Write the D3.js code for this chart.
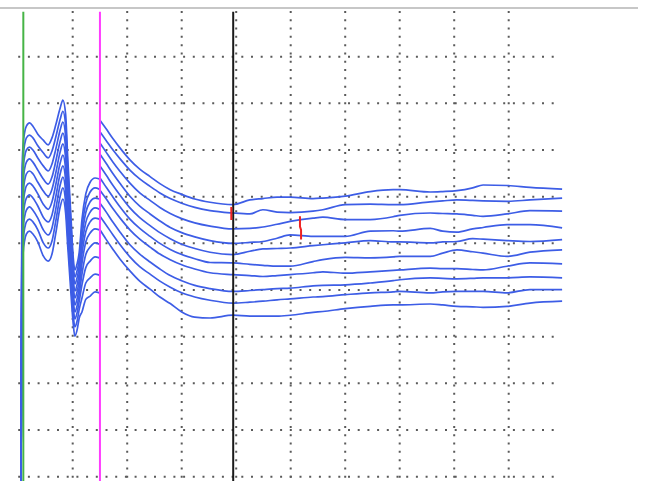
<!DOCTYPE html>
<html>
<head>
<meta charset="utf-8">
<script src="https://cdn.jsdelivr.net/npm/d3@7"></script>
<style>
  html, body { margin: 0; padding: 0; background: #fff; }
  svg { display: block; }
</style>
</head>
<body>
<svg id="chart" width="645" height="481"></svg>
<script>
// ---- data (time in ms, amplitude in µV) ----
const gridTimes = [10, 20, 30, 40, 50, 60, 70, 80, 90];
const gridLevels = [4, 3, 2, 1, 0, -1, -2, -3, -4, -5];
const markerTimes = [0.94, 15.0, 39.45];          // green, magenta, black cursors

const earlyTimes = [0.5, 0.6, 0.7, 0.9, 1.2, 1.5, 2.1, 2.7, 3.6, 4.6, 5.5, 6.2, 6.9, 7.7, 8.2, 8.7, 9.1, 9.7, 10.1, 10.4, 10.8, 11.2, 11.7, 12.4, 13.2, 14.1, 14.9];
const earlyValues = [
  [-5.29, -2.93, 1.51, 2.11, 2.39, 2.51, 2.58, 2.51, 2.34, 2.21, 2.11, 2.26, 2.54, 2.90, 3.07, 2.77, 1.80, 0.52, -0.31, -0.57, -0.44, -0.19, 0.51, 1.06, 1.31, 1.40, 1.38],
  [-5.29, -2.93, 1.25, 1.85, 2.13, 2.26, 2.32, 2.26, 2.09, 1.94, 1.83, 1.98, 2.28, 2.66, 2.83, 2.54, 1.59, 0.34, -0.47, -0.72, -0.59, -0.34, 0.33, 0.86, 1.10, 1.19, 1.16],
  [-5.29, -2.93, 0.99, 1.59, 1.87, 2.00, 2.06, 2.00, 1.83, 1.66, 1.55, 1.70, 2.02, 2.43, 2.60, 2.30, 1.38, 0.17, -0.61, -0.87, -0.74, -0.49, 0.14, 0.66, 0.89, 0.97, 0.95],
  [-5.29, -2.93, 0.73, 1.33, 1.61, 1.74, 1.81, 1.74, 1.57, 1.38, 1.27, 1.42, 1.76, 2.19, 2.36, 2.06, 1.18, -0.01, -0.77, -1.02, -0.89, -0.64, -0.04, 0.45, 0.67, 0.76, 0.73],
  [-5.29, -2.93, 0.48, 1.08, 1.36, 1.49, 1.55, 1.49, 1.31, 1.12, 1.01, 1.16, 1.51, 1.96, 2.13, 1.83, 0.97, -0.18, -0.91, -1.17, -1.04, -0.79, -0.23, 0.25, 0.46, 0.54, 0.52],
  [-5.29, -2.93, 0.22, 0.82, 1.10, 1.23, 1.29, 1.23, 1.06, 0.84, 0.73, 0.89, 1.26, 1.72, 1.89, 1.59, 0.77, -0.36, -1.06, -1.32, -1.19, -0.94, -0.43, 0.03, 0.22, 0.31, 0.29],
  [-5.29, -2.93, -0.04, 0.56, 0.84, 0.97, 1.04, 0.97, 0.80, 0.56, 0.46, 0.61, 1.00, 1.49, 1.66, 1.36, 0.56, -0.53, -1.22, -1.47, -1.34, -1.09, -0.66, -0.24, -0.08, 0.01, -0.02],
  [-5.29, -2.93, -0.29, 0.31, 0.58, 0.71, 0.78, 0.71, 0.54, 0.29, 0.18, 0.33, 0.74, 1.25, 1.42, 1.12, 0.36, -0.71, -1.36, -1.62, -1.49, -1.24, -0.89, -0.52, -0.38, -0.29, -0.31],
  [-5.29, -2.93, -0.55, 0.05, 0.33, 0.46, 0.52, 0.46, 0.29, 0.01, -0.10, 0.05, 0.48, 1.01, 1.19, 0.89, 0.14, -0.90, -1.54, -1.79, -1.67, -1.41, -1.17, -0.85, -0.74, -0.66, -0.68],
  [-5.29, -2.93, -0.81, -0.21, 0.07, 0.20, 0.26, 0.20, 0.03, -0.27, -0.38, -0.23, 0.22, 0.78, 0.95, 0.65, -0.08, -1.11, -1.73, -1.99, -1.86, -1.60, -1.47, -1.20, -1.13, -1.04, -1.06]
];

const lateTimes = [15.0, 16.1, 17.4, 18.7, 20.5, 22.3, 24.2, 26.0, 27.9, 30.0, 32.4, 35.2, 39.4, 42.5, 44.9, 47.5, 49.9, 54.1, 55.9, 60.0, 64.6, 68.8, 70.0, 75.6, 77.9, 80.5, 83.4, 85.3, 89.7, 93.9, 99.8];
const lateValues = [
  [2.64, 2.46, 2.24, 2.04, 1.79, 1.59, 1.43, 1.28, 1.15, 1.05, 0.95, 0.88, 0.83, 0.93, 0.96, 0.99, 0.99, 0.96, 0.97, 1.01, 1.11, 1.15, 1.15, 1.10, 1.11, 1.13, 1.19, 1.25, 1.24, 1.20, 1.16],
  [2.39, 2.21, 2.00, 1.81, 1.57, 1.38, 1.22, 1.08, 0.96, 0.86, 0.77, 0.70, 0.65, 0.63, 0.72, 0.67, 0.66, 0.69, 0.72, 0.83, 0.84, 0.83, 0.83, 0.89, 0.91, 0.93, 0.92, 0.91, 0.90, 0.93, 0.97],
  [2.15, 1.96, 1.74, 1.54, 1.29, 1.08, 0.92, 0.77, 0.64, 0.53, 0.44, 0.37, 0.31, 0.32, 0.35, 0.41, 0.47, 0.54, 0.56, 0.51, 0.51, 0.57, 0.60, 0.65, 0.64, 0.63, 0.60, 0.58, 0.63, 0.70, 0.69],
  [1.91, 1.72, 1.49, 1.28, 1.01, 0.80, 0.63, 0.48, 0.34, 0.23, 0.14, 0.06, 0.00, 0.02, 0.04, 0.11, 0.18, 0.15, 0.15, 0.15, 0.26, 0.27, 0.26, 0.32, 0.26, 0.24, 0.31, 0.34, 0.40, 0.40, 0.33],
  [1.66, 1.47, 1.24, 1.03, 0.76, 0.55, 0.38, 0.23, 0.10, -0.02, -0.11, -0.19, -0.24, -0.17, -0.12, -0.11, -0.10, -0.05, -0.03, 0.01, 0.06, 0.03, 0.03, 0.01, 0.03, 0.04, 0.10, 0.09, 0.06, 0.04, 0.08],
  [1.40, 1.21, 0.99, 0.78, 0.52, 0.32, 0.15, 0.00, -0.13, -0.24, -0.33, -0.41, -0.42, -0.45, -0.47, -0.49, -0.49, -0.39, -0.35, -0.30, -0.31, -0.29, -0.28, -0.28, -0.21, -0.14, -0.18, -0.21, -0.28, -0.19, -0.14],
  [1.14, 0.96, 0.74, 0.54, 0.29, 0.09, -0.08, -0.23, -0.35, -0.46, -0.55, -0.63, -0.67, -0.69, -0.71, -0.69, -0.67, -0.63, -0.61, -0.64, -0.61, -0.58, -0.57, -0.53, -0.54, -0.54, -0.56, -0.57, -0.49, -0.42, -0.44],
  [0.86, 0.68, 0.45, 0.24, -0.03, -0.23, -0.40, -0.55, -0.69, -0.80, -0.90, -0.97, -1.03, -1.01, -0.99, -0.97, -0.96, -0.91, -0.90, -0.89, -0.85, -0.80, -0.78, -0.74, -0.75, -0.76, -0.75, -0.74, -0.74, -0.72, -0.74],
  [0.58, 0.40, 0.18, -0.03, -0.29, -0.50, -0.66, -0.81, -0.94, -1.06, -1.15, -1.22, -1.28, -1.26, -1.24, -1.21, -1.19, -1.15, -1.14, -1.10, -1.06, -1.04, -1.03, -1.06, -1.04, -1.03, -1.03, -1.03, -1.06, -0.99, -0.99],
  [0.29, 0.09, -0.13, -0.34, -0.59, -0.81, -0.98, -1.15, -1.29, -1.47, -1.58, -1.60, -1.54, -1.56, -1.56, -1.56, -1.54, -1.48, -1.46, -1.40, -1.35, -1.32, -1.32, -1.30, -1.32, -1.35, -1.36, -1.37, -1.35, -1.28, -1.24]
];

const redMarks = [
  [[39.1, 0.78], [39.1, 0.50]],
  [[51.7, 0.58], [51.7, 0.36], [51.9, 0.29], [51.9, 0.08]]
];

// ---- drawing ----
const svg = d3.select("#chart");
const W = 645, H = 481;
svg.append("rect").attr("width", W).attr("height", H).attr("fill", "#fff");

const x = d3.scaleLinear().domain([0, 100]).range([18.2, 563.2]);
const y = d3.scaleLinear().domain([-5, 5]).range([476.7, 10]);

// top frame line
svg.append("line")
  .attr("x1", 0).attr("x2", 638).attr("y1", 8).attr("y2", 8)
  .attr("stroke", "#b4b4b4").attr("stroke-width", 1.5);

// dotted grid
const grid = svg.append("g");
grid.selectAll("line.h").data(gridLevels).join("line")
  .attr("class", "h")
  .attr("x1", x(0)).attr("x2", x(99))
  .attr("y1", d => y(d)).attr("y2", d => y(d))
  .attr("stroke", "#5a5a5a").attr("stroke-width", 2)
  .attr("stroke-dasharray", "2,7.7");
grid.selectAll("line.v").data(gridTimes).join("line")
  .attr("class", "v")
  .attr("x1", d => x(d)).attr("x2", d => x(d))
  .attr("y1", y(4.98)).attr("y2", y(-5.2))
  .attr("stroke", "#5a5a5a").attr("stroke-width", 2)
  .attr("stroke-dasharray", "2,6.3");

// traces
const line = d3.line()
  .x(d => x(d[0])).y(d => y(d[1]))
  .curve(d3.curveMonotoneX);
const traces = svg.append("g")
  .attr("fill", "none").attr("stroke", "#3d5de6")
  .attr("stroke-width", 1.7).attr("stroke-linejoin", "round");
earlyValues.forEach(vals => {
  traces.append("path").attr("d", line(earlyTimes.map((t, i) => [t, vals[i]])));
});
lateValues.forEach(vals => {
  traces.append("path").attr("d", line(lateTimes.map((t, i) => [t, vals[i]])));
});

// cursor lines
const cursorColors = ["#46b446", "#ff3cff", "#1a1a1a"];
svg.append("g").selectAll("line").data(markerTimes).join("line")
  .attr("x1", d => x(d)).attr("x2", d => x(d))
  .attr("y1", y(4.96)).attr("y2", H)
  .attr("stroke", (d, i) => cursorColors[i])
  .attr("stroke-width", 2);

// red markers
svg.append("g").selectAll("path").data(redMarks).join("path")
  .attr("d", d3.line().x(d => x(d[0])).y(d => y(d[1])))
  .attr("fill", "none").attr("stroke", "#ee2222").attr("stroke-width", 2);
</script>
</body>
</html>
